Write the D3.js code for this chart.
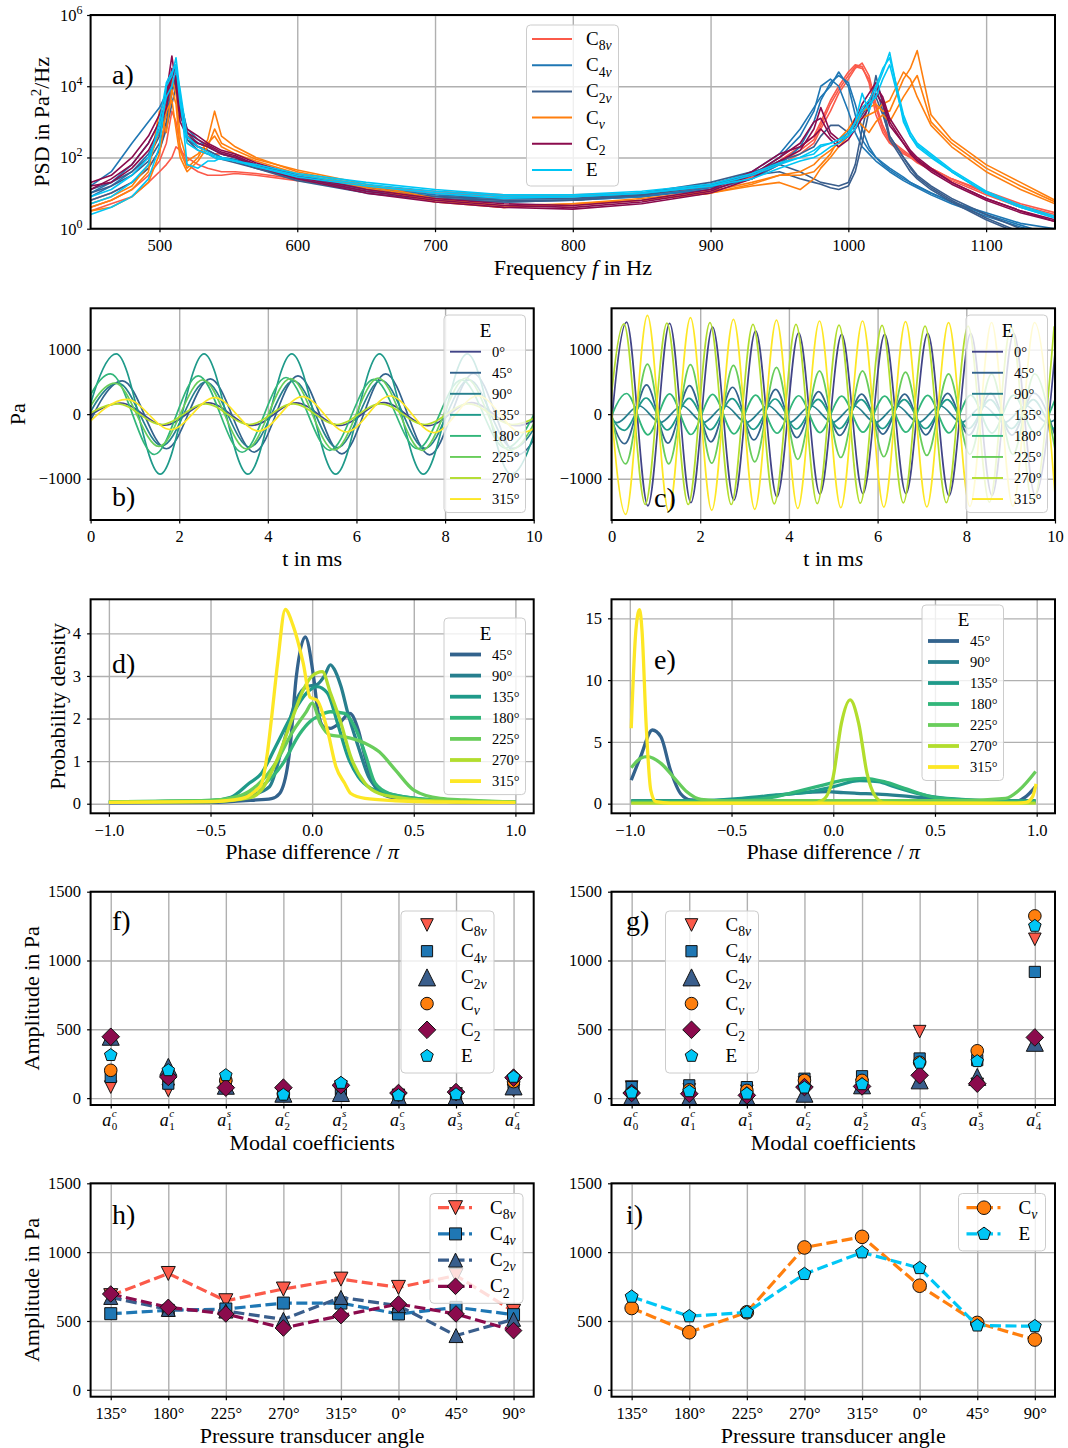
<!DOCTYPE html>
<html>
<head>
<meta charset="utf-8">
<script src="https://cdn.jsdelivr.net/npm/d3@7"></script>
<style>
  body { margin: 0; background: #fff; }
  text { font-family: "Liberation Serif", "DejaVu Serif", serif; }
</style>
</head>
<body>
<script>
// ---------- data ----------
// groups (legend order)
var groupSubs = ['8v', '4v', '2v', 'v', '2', ''];

// a) PSD, log10 of Pa^2/Hz, read at these frequencies
var psdFreq = [450,465,480,492,500,505,509,512,515,520,528,535,540,545,555,570,600,650,700,750,800,850,900,930,950,965,975,980,987,993,1000,1005,1010,1015,1020,1025,1030,1040,1045,1050,1060,1075,1100,1125,1150];
var psdC8v = [
  [0.6,0.8,1.1,1.5,1.9,2.4,3.3,3.0,2.3,1.8,1.6,1.5,1.5,1.5,1.55,1.5,1.35,1.15,1.0,0.95,0.95,1.0,1.2,1.5,1.9,2.3,2.6,3.0,3.6,4.0,4.4,4.6,4.55,4.1,3.2,2.7,2.4,2.1,2.0,1.85,1.65,1.35,0.95,0.6,0.35],
  [0.8,1.0,1.3,1.7,2.2,2.9,4.0,4.3,3.5,2.7,2.3,2.2,2.1,2.1,2.0,1.8,1.5,1.2,1.0,0.9,0.85,0.9,1.1,1.4,1.8,2.1,2.4,2.8,3.3,3.8,4.2,4.5,4.65,4.3,3.5,2.9,2.5,2.2,2.05,1.9,1.7,1.4,1.0,0.65,0.4],
  [0.5,0.7,0.9,1.3,1.6,1.8,2.0,2.3,2.2,2.0,1.8,1.7,1.65,1.6,1.6,1.55,1.4,1.2,1.05,0.95,0.9,0.95,1.15,1.45,1.85,2.2,2.5,2.9,3.5,3.9,4.3,4.55,4.5,4.2,3.4,2.8,2.45,2.15,2.0,1.9,1.7,1.4,1.05,0.7,0.45]
];
var psdC4v = [
  [1.2,1.6,2.4,3.0,3.4,3.8,4.3,4.5,3.6,2.8,2.5,2.3,2.2,2.1,2.0,1.8,1.5,1.15,0.95,0.85,0.85,0.95,1.2,1.6,2.1,2.8,3.4,3.7,4.0,4.4,4.0,3.2,2.5,2.2,2.0,1.8,1.65,1.4,1.3,1.2,1.0,0.75,0.4,0.1,-0.2],
  [1.0,1.3,1.8,2.4,3.0,3.5,4.2,4.0,3.2,2.6,2.4,2.3,2.2,2.1,2.0,1.8,1.45,1.1,0.9,0.8,0.8,0.9,1.15,1.5,2.0,2.6,3.3,4.0,4.2,4.0,3.3,2.7,2.3,2.1,1.9,1.75,1.6,1.35,1.25,1.15,0.95,0.7,0.35,0.05,-0.2],
  [0.9,1.2,1.6,2.1,2.7,3.2,3.9,4.2,3.4,2.5,2.3,2.2,2.1,2.0,1.95,1.75,1.4,1.05,0.85,0.75,0.8,0.9,1.1,1.4,1.8,2.3,3.0,3.6,4.1,4.3,4.1,3.5,2.8,2.3,2.0,1.85,1.7,1.45,1.3,1.2,1.0,0.75,0.45,0.15,0.0]
];
var psdC2v = [
  [1.1,1.3,1.6,2.0,2.6,3.3,4.2,4.6,3.4,2.6,2.3,2.2,2.1,2.0,1.9,1.7,1.4,1.05,0.85,0.8,0.8,0.95,1.2,1.5,1.6,1.4,1.3,1.25,1.15,1.1,1.2,1.6,2.4,3.3,4.3,3.5,2.6,2.0,1.7,1.45,1.15,0.8,0.3,-0.1,-0.4],
  [1.0,1.2,1.5,1.9,2.4,3.0,3.8,4.3,3.7,2.7,2.4,2.3,2.2,2.1,2.0,1.8,1.5,1.1,0.9,0.85,0.85,1.0,1.3,1.6,1.8,1.6,1.4,1.3,1.25,1.2,1.3,1.8,2.8,3.6,4.0,3.3,2.5,1.9,1.6,1.4,1.1,0.75,0.25,-0.15,-0.4],
  [0.8,1.0,1.3,1.7,2.2,2.8,3.5,4.0,3.3,2.5,2.2,2.1,2.0,1.95,1.85,1.7,1.35,1.0,0.8,0.75,0.8,0.95,1.25,1.55,1.9,2.1,2.3,2.6,2.9,2.9,2.7,2.9,3.2,3.5,3.7,3.2,2.6,2.0,1.75,1.5,1.2,0.85,0.4,0.0,-0.3]
];
var psdCv = [
  [0.6,0.8,1.1,1.6,3.3,2.7,3.9,3.5,2.2,1.7,2.0,2.5,3.3,2.6,2.3,2.0,1.6,1.2,0.8,0.6,0.7,0.8,1.0,1.2,1.3,1.1,1.4,1.7,2.0,2.3,2.6,3.0,3.3,3.4,3.5,3.3,3.3,4.2,4.5,5.0,3.2,2.5,1.8,1.3,0.8],
  [0.5,0.6,0.9,1.3,2.1,3.3,3.6,2.8,2.0,1.6,1.9,2.3,2.8,2.4,2.2,1.95,1.65,1.25,0.85,0.65,0.7,0.85,1.05,1.3,1.5,1.6,1.8,2.0,2.2,2.4,2.7,3.0,3.1,3.2,3.3,3.5,3.6,4.4,4.2,3.7,2.9,2.3,1.6,1.1,0.7],
  [0.7,0.9,1.2,1.8,2.8,3.5,4.2,3.8,2.6,1.9,2.1,2.4,2.6,2.3,2.1,1.9,1.55,1.15,0.75,0.6,0.65,0.8,1.0,1.25,1.5,1.5,1.6,1.8,2.1,2.5,2.8,3.1,2.9,2.7,3.0,3.2,3.0,3.7,4.0,4.3,3.0,2.4,1.7,1.2,0.75]
];
var psdC2 = [
  [1.3,1.5,2.0,2.6,3.2,3.8,4.85,4.0,3.0,2.6,2.4,2.3,2.2,2.1,2.0,1.75,1.4,1.0,0.75,0.6,0.55,0.7,1.0,1.4,1.9,2.2,2.8,3.4,2.7,2.5,2.7,3.0,3.5,3.8,4.1,3.6,3.0,2.4,2.1,1.9,1.6,1.25,0.8,0.45,0.2],
  [1.1,1.4,1.8,2.4,3.0,3.6,4.5,4.2,3.2,2.7,2.5,2.35,2.25,2.15,2.05,1.8,1.45,1.05,0.8,0.65,0.6,0.75,1.05,1.5,2.0,2.4,3.0,3.1,2.6,2.4,2.6,3.1,3.3,3.6,4.0,3.7,3.1,2.5,2.2,2.0,1.7,1.3,0.85,0.5,0.25],
  [1.2,1.3,1.7,2.2,2.8,3.4,4.3,4.4,3.4,2.8,2.6,2.4,2.3,2.2,2.1,1.85,1.5,1.1,0.85,0.7,0.65,0.8,1.1,1.6,2.1,2.3,2.6,2.8,2.5,2.3,2.5,2.8,3.1,3.4,3.8,3.5,2.9,2.4,2.15,1.95,1.65,1.3,0.85,0.5,0.2]
];
var psdE = [
  [0.4,0.6,0.9,1.4,2.3,4.0,4.3,4.8,3.8,1.8,1.7,1.9,1.9,2.0,1.9,1.75,1.45,1.2,1.0,0.85,0.9,1.0,1.2,1.4,1.7,1.9,2.0,2.1,2.3,2.4,2.6,3.0,3.8,3.3,3.9,4.4,4.95,3.0,2.6,2.3,2.0,1.6,1.0,0.6,0.3],
  [0.7,0.9,1.3,1.8,3.0,4.1,4.4,4.6,3.5,2.4,2.2,2.1,2.0,1.95,1.9,1.75,1.5,1.25,1.05,0.9,0.9,1.0,1.2,1.5,1.8,2.0,2.1,2.3,2.4,2.5,2.7,3.0,3.4,3.6,4.0,4.5,4.8,3.2,2.7,2.4,2.1,1.65,1.05,0.65,0.35],
  [0.9,1.1,1.5,2.0,2.8,3.7,4.0,4.5,3.9,2.6,2.3,2.15,2.05,2.0,1.9,1.8,1.55,1.3,1.1,0.95,0.95,1.05,1.25,1.55,1.85,2.0,2.2,2.35,2.4,2.5,2.6,2.8,3.3,3.5,3.7,4.2,4.6,3.1,2.6,2.35,2.05,1.6,1.0,0.6,0.3]
];

// b), c) pressure signals of E: [t in ms, extremum in Pa] per transducer angle
var angleLabels = ['0°', '45°', '90°', '135°', '180°', '225°', '270°', '315°'];
var sigLow = [
  [[-0.31,-170],[0.68,170],[1.67,-170],[2.66,175],[3.65,-175],[4.64,175],[5.63,-175],[6.62,180],[7.61,-180],[8.60,180],[9.59,-180],[10.58,180]],
  [[-0.27,-500],[0.72,515],[1.71,-536],[2.70,547],[3.69,-588],[4.68,594],[5.67,-615],[6.66,625],[7.65,-630],[8.64,630],[9.63,-630],[10.62,630]],
  [[-0.37,-470],[0.62,480],[1.61,-490],[2.60,500],[3.59,-510],[4.58,515],[5.57,-520],[6.56,525],[7.55,-530],[8.54,530],[9.53,-530],[10.52,530]],
  [[-0.41,-930],[0.58,935],[1.57,-930],[2.56,935],[3.55,-930],[4.54,935],[5.53,-930],[6.52,935],[7.51,-930],[8.50,935],[9.49,-930],[10.48,930]],
  [[-0.54,-620],[0.45,625],[1.44,-625],[2.43,594],[3.42,-590],[4.41,568],[5.40,-560],[6.39,540],[7.38,-536],[8.37,530],[9.36,-525],[10.35,520]],
  [[-0.44,-470],[0.55,480],[1.54,-500],[2.53,530],[3.52,-540],[4.51,552],[5.50,-555],[6.49,557],[7.48,-560],[8.47,560],[9.46,-560],[10.45,560]],
  [[-0.38,-155],[0.61,160],[1.60,-160],[2.59,160],[3.58,-160],[4.57,160],[5.56,-160],[6.55,160],[7.54,-160],[8.53,160],[9.52,-160],[10.51,160]],
  [[-0.17,-220],[0.82,229],[1.81,-240],[2.80,255],[3.79,-262],[4.78,270],[5.77,-275],[6.76,281],[7.75,-285],[8.74,285],[9.73,-285],[10.72,285]]
];
var sigHigh = [
  [[-0.15,-1420],[0.34,1427],[0.82,-1420],[1.31,1406],[1.79,-1370],[2.28,1350],[2.76,-1333],[3.25,1290],[3.73,-1280],[4.22,1260],[4.70,-1240],[5.19,1235],[5.67,-1230],[6.16,1235],[6.64,-1230],[7.13,1250],[7.61,-1265],[8.10,1250],[8.58,-1260],[9.07,1250],[9.55,-1250],[10.04,1250]],
  [[-0.19,450],[0.30,-458],[0.79,453],[1.27,-450],[1.76,443],[2.24,-430],[2.73,417],[3.21,-400],[3.70,385],[4.18,-365],[4.67,349],[5.15,-330],[5.64,310],[6.12,-310],[6.61,310],[7.09,-320],[7.58,323],[8.06,-325],[8.55,325],[9.03,-325],[9.52,325],[10.00,-325]],
  [[-0.36,130],[0.13,-130],[0.62,130],[1.10,-130],[1.59,130],[2.07,-130],[2.56,130],[3.04,-130],[3.53,130],[4.01,-130],[4.50,130],[4.98,-130],[5.47,130],[5.95,-130],[6.44,130],[6.92,-130],[7.41,130],[7.89,-130],[8.38,130],[8.86,-130],[9.35,130],[9.83,-130],[10.32,130]],
  [[-0.20,250],[0.29,-250],[0.78,250],[1.26,-245],[1.75,245],[2.23,-240],[2.72,240],[3.20,-235],[3.69,235],[4.17,-230],[4.66,230],[5.14,-225],[5.63,225],[6.11,-225],[6.60,225],[7.08,-225],[7.57,225],[8.05,-225],[8.54,225],[9.02,-225],[9.51,225],[9.99,-225],[10.48,225]],
  [[-0.15,-320],[0.34,320],[0.82,-320],[1.31,315],[1.79,-315],[2.28,305],[2.76,-305],[3.25,295],[3.73,-295],[4.22,285],[4.70,-285],[5.19,280],[5.67,-280],[6.16,280],[6.64,-280],[7.13,290],[7.61,-290],[8.10,295],[8.58,-295],[9.07,295],[9.55,-295],[10.04,295]],
  [[-0.16,770],[0.32,-770],[0.81,776],[1.29,-770],[1.78,766],[2.26,-760],[2.75,755],[3.23,-740],[3.72,724],[4.20,-700],[4.69,672],[5.17,-672],[5.66,672],[6.14,-660],[6.63,651],[7.11,-640],[7.60,625],[8.08,-625],[8.57,625],[9.05,-625],[9.54,625],[10.02,-625]],
  [[-0.21,-1400],[0.28,1400],[0.76,-1400],[1.25,1410],[1.73,-1400],[2.22,1417],[2.70,-1400],[3.19,1390],[3.67,-1390],[4.16,1390],[4.64,-1385],[5.13,1380],[5.61,-1380],[6.10,1375],[6.58,-1375],[7.07,1365],[7.55,-1370],[8.04,1365],[8.52,-1365],[9.01,1360],[9.49,-1360],[9.98,1360]],
  [[-0.16,1530],[0.32,-1552],[0.81,1531],[1.29,-1510],[1.78,1495],[2.26,-1490],[2.75,1469],[3.23,-1474],[3.72,1458],[4.20,-1460],[4.69,1443],[5.17,-1448],[5.66,1443],[6.14,-1440],[6.63,1432],[7.11,-1437],[7.60,1417],[8.08,-1430],[8.57,1420],[9.05,-1425],[9.54,1420],[10.02,-1420]]
];

// d), e) probability density of phase difference, [phase/pi, density], angles 45..315
var phaseLow = [
  [[-1,0.02],[-0.5,0.03],[-0.3,0.08],[-0.2,0.12],[-0.16,0.24],[-0.11,1.26],[-0.078,2.98],[-0.034,3.92],[0.007,2.98],[0.03,2.12],[0.058,1.8],[0.09,1.77],[0.134,1.89],[0.185,2.12],[0.227,1.73],[0.26,1.1],[0.31,0.4],[0.38,0.16],[0.5,0.09],[0.7,0.05],[1,0.03]],
  [[-1,0.03],[-0.5,0.05],[-0.3,0.2],[-0.21,0.4],[-0.146,1.34],[-0.078,2.43],[-0.027,2.75],[0.024,2.8],[0.06,3.0],[0.09,3.26],[0.115,3.1],[0.142,2.75],[0.176,2.12],[0.227,1.34],[0.278,0.63],[0.33,0.32],[0.41,0.16],[0.5,0.1],[0.7,0.05],[1,0.03]],
  [[-1,0.04],[-0.5,0.07],[-0.4,0.15],[-0.31,0.48],[-0.25,0.71],[-0.18,1.34],[-0.095,2.12],[-0.027,2.6],[0.024,2.75],[0.075,2.6],[0.125,1.89],[0.176,1.1],[0.227,0.63],[0.29,0.36],[0.41,0.2],[0.5,0.13],[0.7,0.06],[1,0.04]],
  [[-1,0.05],[-0.5,0.08],[-0.35,0.15],[-0.25,0.4],[-0.15,0.9],[-0.06,1.65],[-0.01,1.93],[0.04,2.08],[0.09,2.16],[0.16,2.12],[0.21,1.8],[0.26,1.18],[0.31,0.48],[0.38,0.24],[0.5,0.13],[0.7,0.07],[1,0.04]],
  [[-1,0.05],[-0.5,0.08],[-0.35,0.2],[-0.26,0.48],[-0.18,0.95],[-0.095,1.7],[-0.03,2.15],[0.0,2.36],[0.04,1.89],[0.09,1.61],[0.16,1.57],[0.26,1.42],[0.33,1.22],[0.41,0.79],[0.5,0.32],[0.63,0.125],[0.75,0.09],[1,0.04]],
  [[-1,0.03],[-0.5,0.05],[-0.3,0.15],[-0.25,0.32],[-0.18,0.95],[-0.095,2.04],[-0.044,2.67],[0.0,3.0],[0.05,3.1],[0.09,2.6],[0.142,1.89],[0.19,1.1],[0.26,0.48],[0.33,0.24],[0.5,0.1],[0.7,0.05],[1,0.03]],
  [[-1,0.03],[-0.5,0.05],[-0.35,0.12],[-0.28,0.3],[-0.25,0.45],[-0.22,1.2],[-0.2,2.0],[-0.17,3.3],[-0.132,4.56],[-0.095,4.2],[-0.044,3.3],[-0.01,2.5],[0.024,2.43],[0.075,1.73],[0.117,0.87],[0.16,0.48],[0.19,0.24],[0.26,0.125],[0.41,0.07],[0.6,0.04],[1,0.03]]
];
var phaseHigh = [
  [[-0.993,1.9],[-0.947,3.8],[-0.889,5.96],[-0.847,5.4],[-0.8,2.7],[-0.75,0.8],[-0.7,0.3],[-0.5,0.2],[0,0.2],[0.5,0.2],[0.9,0.2],[0.947,0.57],[0.995,1.4]],
  [[-0.993,0.25],[-0.7,0.25],[-0.45,0.35],[-0.22,0.78],[-0.03,0.97],[0.05,0.89],[0.116,0.84],[0.22,0.78],[0.38,0.57],[0.55,0.35],[0.8,0.25],[0.995,0.25]],
  [[-0.993,0.15],[-0.7,0.2],[-0.45,0.43],[-0.28,0.7],[-0.11,0.97],[0.0,1.37],[0.13,1.86],[0.22,1.78],[0.3,1.37],[0.47,0.62],[0.63,0.35],[0.8,0.2],[0.995,0.15]],
  [[-0.993,0.2],[-0.5,0.2],[-0.28,0.57],[-0.15,1.1],[-0.05,1.5],[0.05,1.9],[0.15,2.05],[0.25,1.78],[0.35,1.24],[0.48,0.57],[0.63,0.3],[0.8,0.2],[0.995,0.2]],
  [[-0.993,2.9],[-0.947,3.67],[-0.914,3.8],[-0.847,3.26],[-0.78,2.05],[-0.72,0.97],[-0.65,0.35],[-0.515,0.22],[0,0.25],[0.6,0.25],[0.847,0.43],[0.914,1.1],[0.995,2.6]],
  [[-0.993,0.05],[-0.1,0.05],[-0.05,0.3],[0.0,2.2],[0.04,6.5],[0.083,8.4],[0.125,6.5],[0.166,2.45],[0.208,0.57],[0.25,0.1],[0.4,0.05],[0.995,0.05]],
  [[-0.993,6.1],[-0.97,14.05],[-0.952,15.7],[-0.94,14.0],[-0.92,6.5],[-0.897,1.1],[-0.872,0.16],[-0.8,0.05],[0.9,0.05],[0.947,0.1],[0.98,0.57],[0.997,1.6]]
];

// f), g) modal coefficient amplitudes in Pa
var coefIndex = ['0', '1', '1', '2', '2', '3', '3', '4'];
var coefKind = ['c', 'c', 's', 'c', 's', 'c', 's', 'c'];
var lowC8v = [80, 56, 80, 20, 80, 20, 30, 56];
var lowC4v = [154, 105, 100, 40, 60, 20, 20, 110];
var lowC2v = [446, 227, 90, 32, 37, 7, 7, 85];
var lowCv = [202, 150, 130, 30, 90, 30, 40, 120];
var lowC2 = [446, 154, 76, 76, 93, 37, 44, 149];
var lowE = [312, 202, 166, 24, 110, 20, 27, 154];
var highC8v = [80, 60, 50, 110, 90, 483, 100, 1154];
var highC4v = [80, 93, 80, 141, 159, 288, 276, 917];
var highC2v = [7, 0, 7, 32, 93, 129, 154, 402];
var highCv = [40, 60, 56, 129, 129, 260, 344, 1324];
var highC2 = [37, 32, 20, 80, 85, 166, 105, 441];
var highE = [39, 49, 32, 76, 100, 256, 268, 1251];

// h), i) amplitude per pressure transducer
var transducerAngles = ['135°', '180°', '225°', '270°', '315°', '0°', '45°', '90°'];
var ampC8v = [684, 845, 647, 732, 804, 744, 830, 570];
var ampC4v = [553, 577, 587, 630, 630, 551, 599, 546];
var ampC2v = [671, 584, 572, 512, 671, 611, 394, 512];
var ampC2 = [696, 599, 551, 449, 539, 623, 551, 430];
var ampCv = [594, 418, 563, 1034, 1111, 756, 486, 365];
var ampE = [676, 534, 563, 841, 998, 884, 467, 462];

// ---------- styles ----------
var groupColors = ['#fb5a4a', '#1f77b4', '#3a5e8c', '#ff7f0e', '#8b0b4d', '#00c6f5'];
var groupMarkers = ['v', 's', '^', 'o', 'D', 'p'];
var markerR = [6.3, 5.6, 8.5, 6.3, 8.8, 6.6];
var markerRLine = [7, 6, 7, 6.8, 8.3, 6.8];
var angleColors = angleLabels.map(function(d, i){ return d3.interpolateViridis(0.2 + 0.8 * i / 7); });
var gridColor = '#b0b0b0';
var tickFont = 16.5;

var svg = d3.select('body').append('svg')
    .attr('width', 1068)
    .attr('height', 1448);

var colL = {x0: 90.6, x1: 533.7};
var colR = {x0: 611.5, x1: 1055};

function box(col, y0, y1){ return {x0: col.x0, x1: col.x1, y0: y0, y1: y1}; }

var clipN = 0;
// grid, clipped plot layer, and a top layer for spines / ticks
function axes(b, x, y, xTicks, yTicks, xFmt, yFmt){
    var w = b.x1 - b.x0, h = b.y1 - b.y0;
    var g = svg.append('g');
    g.append('g').attr('transform', 'translate(0,' + b.y1 + ')')
        .call(d3.axisBottom(x).tickValues(xTicks).tickSize(-h).tickFormat(''))
        .call(function(s){ s.select('.domain').remove(); s.selectAll('line').attr('stroke', gridColor).attr('stroke-width', 1.4); });
    g.append('g').attr('transform', 'translate(' + b.x0 + ',0)')
        .call(d3.axisLeft(y).tickValues(yTicks).tickSize(-w).tickFormat(''))
        .call(function(s){ s.select('.domain').remove(); s.selectAll('line').attr('stroke', gridColor).attr('stroke-width', 1.4); });
    var id = 'clip' + (clipN++);
    g.append('clipPath').attr('id', id).append('rect')
        .attr('x', b.x0).attr('y', b.y0).attr('width', w).attr('height', h);
    var plot = g.append('g').attr('clip-path', 'url(#' + id + ')');
    var top = g.append('g');
    top.append('rect').attr('x', b.x0).attr('y', b.y0).attr('width', w).attr('height', h)
        .attr('fill', 'none').attr('stroke', '#000').attr('stroke-width', 2);
    var xa = top.append('g').attr('transform', 'translate(0,' + b.y1 + ')')
        .call(d3.axisBottom(x).tickValues(xTicks).tickSize(3.5).tickPadding(7).tickFormat(xFmt || function(){ return ''; }));
    var ya = top.append('g').attr('transform', 'translate(' + b.x0 + ',0)')
        .call(d3.axisLeft(y).tickValues(yTicks).tickSize(3.5).tickPadding(6).tickFormat(yFmt || function(){ return ''; }));
    [xa, ya].forEach(function(a){
        a.select('.domain').remove();
        a.attr('font-family', null).attr('font-size', tickFont);
        a.selectAll('line').attr('stroke-width', 1.2);
    });
    return {g: g, plot: plot, top: top, b: b, x: x, y: y};
}

function panelLetter(ax, x, y, s){
    ax.top.append('text').attr('x', x).attr('y', y).attr('font-size', 28).text(s);
}

function xLabel(ax, build, off){
    var t = ax.top.append('text').attr('x', (ax.b.x0 + ax.b.x1) / 2).attr('y', ax.b.y1 + (off || 46))
        .attr('text-anchor', 'middle').attr('font-size', 22);
    build(t);
}

function yLabel(ax, xc, build){
    var yc = (ax.b.y0 + ax.b.y1) / 2;
    var t = ax.top.append('text').attr('transform', 'translate(' + xc + ',' + yc + ') rotate(-90)')
        .attr('text-anchor', 'middle').attr('font-size', 22);
    build(t);
}

// "C" with subscript like 8v (v in italics)
function cText(t, sub, fs){
    t.append('tspan').text(sub === null ? 'E' : 'C');
    if (sub === null) return;
    var first = true;
    sub.split('').forEach(function(ch){
        var sp = t.append('tspan').attr('font-size', fs * 0.72).text(ch);
        if (first) { sp.attr('dy', fs * 0.28); first = false; }
        if (ch === 'v') sp.attr('font-style', 'italic');
    });
}
function groupLabel(t, gi, fs){ cText(t, gi === 5 ? null : groupSubs[gi], fs); }

function markerPath(kind, r){
    if (kind === 'v') return 'M0,' + r + 'L' + (-r) + ',' + (-r) + 'L' + r + ',' + (-r) + 'Z';
    if (kind === '^') return 'M0,' + (-r) + 'L' + (-r) + ',' + r + 'L' + r + ',' + r + 'Z';
    if (kind === 's') return 'M' + (-r) + ',' + (-r) + 'H' + r + 'V' + r + 'H' + (-r) + 'Z';
    if (kind === 'D') return 'M0,' + (-r) + 'L' + r + ',0L0,' + r + 'L' + (-r) + ',0Z';
    if (kind === 'o') return 'M' + r + ',0A' + r + ',' + r + ' 0 1,1 ' + (-r) + ',0A' + r + ',' + r + ' 0 1,1 ' + r + ',0Z';
    var pts = d3.range(5).map(function(k){
        var a = (-90 + k * 72) * Math.PI / 180;
        return [r * Math.cos(a), r * Math.sin(a)];
    });
    return 'M' + pts.map(function(p){ return p.join(','); }).join('L') + 'Z';
}

function legendBox(ax, x0, y0, x1, y1){
    ax.top.append('rect').attr('x', x0).attr('y', y0).attr('width', x1 - x0).attr('height', y1 - y0)
        .attr('rx', 4).attr('fill', '#fff').attr('fill-opacity', 0.8)
        .attr('stroke', '#cccccc').attr('stroke-width', 1);
}

// ---------- a) PSD ----------
var boxA = {x0: colL.x0, x1: colR.x1, y0: 15, y1: 228.7};
var xA = d3.scaleLinear().domain([450, 1150]).range([boxA.x0, boxA.x1]);
var yA = d3.scaleLog().domain([1, 1e6]).range([boxA.y1, boxA.y0]);
var axA = axes(boxA, xA, yA, [500, 600, 700, 800, 900, 1000, 1100], [1, 1e2, 1e4, 1e6], d3.format('d'), null);
[0, 2, 4, 6].forEach(function(p){
    var t = axA.top.append('text').attr('x', boxA.x0 - 8).attr('y', yA(Math.pow(10, p)) + 6)
        .attr('text-anchor', 'end').attr('font-size', tickFont);
    t.append('tspan').text('10');
    t.append('tspan').attr('dy', -7).attr('font-size', 12).text(p);
});
var lineA = d3.line()
    .x(function(v, i){ return xA(psdFreq[i]); })
    .y(function(v){ return yA(Math.pow(10, v)); });
[psdC8v, psdC4v, psdC2v, psdCv, psdC2, psdE].forEach(function(grp, gi){
    grp.forEach(function(series){
        axA.plot.append('path').datum(series).attr('d', lineA)
            .attr('fill', 'none').attr('stroke', groupColors[gi]).attr('stroke-width', 1.6)
            .attr('stroke-linejoin', 'round');
    });
});
xLabel(axA, function(t){
    t.append('tspan').text('Frequency ');
    t.append('tspan').attr('font-style', 'italic').text('f');
    t.append('tspan').text(' in Hz');
});
yLabel(axA, 49, function(t){
    t.append('tspan').text('PSD in Pa');
    t.append('tspan').attr('dy', -8).attr('font-size', 15).text('2');
    t.append('tspan').attr('dy', 8).text('/Hz');
});
panelLetter(axA, 112, 84, 'a)');
legendBox(axA, 526.5, 25, 618.5, 186);
groupSubs.forEach(function(s, gi){
    var yy = 39 + gi * 26.2;
    axA.top.append('line').attr('x1', 532).attr('x2', 572).attr('y1', yy).attr('y2', yy)
        .attr('stroke', groupColors[gi]).attr('stroke-width', 2);
    groupLabel(axA.top.append('text').attr('x', 586).attr('y', yy + 6).attr('font-size', 19), gi, 19);
});

// ---------- b), c) time signals ----------
function angleLegend(ax, x0, y0, labels, colors, titleY, firstY, step, lw){
    var n = labels.length;
    legendBox(ax, x0, y0, x0 + 81.5, firstY + (n - 1) * step + 13.5);
    ax.top.append('text').attr('x', x0 + 41.5).attr('y', titleY + 7).attr('text-anchor', 'middle')
        .attr('font-size', 19).text('E');
    labels.forEach(function(lab, i){
        var yy = firstY + i * step;
        ax.top.append('line').attr('x1', x0 + 6).attr('x2', x0 + 37).attr('y1', yy).attr('y2', yy)
            .attr('stroke', colors[i]).attr('stroke-width', lw);
        ax.top.append('text').attr('x', x0 + 48).attr('y', yy + 5).attr('font-size', 14.5).text(lab);
    });
}
function signalPanel(col, data, withYLabel, sItalic, legendX){
    var b = box(col, 308.3, 520);
    var x = d3.scaleLinear().domain([0, 10]).range([b.x0, b.x1]);
    var y = d3.scaleLinear().domain([-1640, 1640]).range([b.y1, b.y0]);
    var ax = axes(b, x, y, [0, 2, 4, 6, 8, 10], [-1000, 0, 1000], d3.format('d'), d3.format('d'));
    var line = d3.line().x(function(d){ return x(d[0]); }).y(function(d){ return y(d[1]); }).curve(d3.curveMonotoneX);
    data.forEach(function(series, i){
        ax.plot.append('path').datum(series).attr('d', line)
            .attr('fill', 'none').attr('stroke', angleColors[i]).attr('stroke-width', 1.7);
    });
    xLabel(ax, function(t){
        t.append('tspan').text('t in m');
        t.append('tspan').attr('font-style', sItalic ? 'italic' : null).text('s');
    });
    if (withYLabel) yLabel(ax, 25, function(t){ t.text('Pa'); });
    angleLegend(ax, legendX, 315, angleLabels, angleColors, 330, 351.7, 21.05, 1.9);
    return ax;
}
var axB = signalPanel(colL, sigLow, true, false, 444);
panelLetter(axB, 112, 506, 'b)');
var axC = signalPanel(colR, sigHigh, false, true, 966);
panelLetter(axC, 654, 507, 'c)');

// ---------- d), e) phase difference ----------
function phasePanel(col, data, yMax, yMin, yTicks, legX, legY0, titleY, firstY, step){
    var b = box(col, 599.3, 813.3);
    var x = d3.scaleLinear().domain([-1.09, 1.09]).range([b.x0, b.x1]);
    var y = d3.scaleLinear().domain([yMin, yMax]).range([b.y1, b.y0]);
    var ax = axes(b, x, y, [-1, -0.5, 0, 0.5, 1], yTicks, d3.format('.1f'), d3.format('d'));
    var line = d3.line().x(function(d){ return x(d[0]); }).y(function(d){ return y(d[1]); }).curve(d3.curveMonotoneX);
    data.forEach(function(series, i){
        ax.plot.append('path').datum(series).attr('d', line)
            .attr('fill', 'none').attr('stroke', angleColors[i + 1]).attr('stroke-width', 3.3)
            .attr('stroke-linejoin', 'round');
    });
    xLabel(ax, function(t){
        t.append('tspan').text('Phase difference / ');
        t.append('tspan').attr('font-style', 'italic').text('π');
    });
    angleLegend(ax, legX, legY0, angleLabels.slice(1), angleColors.slice(1), titleY, firstY, step, 3.8);
    return ax;
}
var axD = phasePanel(colL, phaseLow, 4.8, -0.225, [0, 1, 2, 3, 4], 444, 618, 633, 654.5, 21.1);
yLabel(axD, 65, function(t){ t.text('Probability density'); });
panelLetter(axD, 112, 673, 'd)');
var axE = phasePanel(colR, phaseHigh, 16.54, -0.78, [0, 5, 10, 15], 922, 605, 619, 641, 21.0);
panelLetter(axE, 654, 669, 'e)');

// ---------- f), g) modal coefficients ----------
function coefPanel(col, series, legX){
    var b = box(col, 891.7, 1105);
    var x = d3.scalePoint().domain(d3.range(coefIndex.length)).range([b.x0, b.x1]).padding(0.35);
    var y = d3.scaleLinear().domain([-50, 1500]).range([b.y1, b.y0]);
    var ax = axes(b, x, y, d3.range(coefIndex.length), [0, 500, 1000, 1500], null, d3.format('d'));
    series.forEach(function(vals, gi){
        ax.plot.selectAll(null).data(vals).enter().append('path')
            .attr('transform', function(d, i){ return 'translate(' + x(i) + ',' + y(d) + ')'; })
            .attr('d', markerPath(groupMarkers[gi], markerR[gi]))
            .attr('fill', groupColors[gi]).attr('stroke', '#111').attr('stroke-width', 1);
    });
    coefIndex.forEach(function(idx, i){
        var cx = x(i);
        ax.top.append('text').attr('x', cx - 4).attr('y', b.y1 + 21).attr('text-anchor', 'middle')
            .attr('font-size', 18).attr('font-style', 'italic').text('a');
        ax.top.append('text').attr('x', cx + 1).attr('y', b.y1 + 25).attr('font-size', 11).text(idx);
        ax.top.append('text').attr('x', cx + 1).attr('y', b.y1 + 12).attr('font-size', 11)
            .attr('font-style', 'italic').text(coefKind[i]);
    });
    xLabel(ax, function(t){ t.text('Modal coefficients'); }, 45);
    legendBox(ax, legX, 911, legX + 93, 1073);
    groupSubs.forEach(function(s, gi){
        var yy = 925 + gi * 26.2;
        ax.top.append('path').attr('transform', 'translate(' + (legX + 26) + ',' + yy + ')')
            .attr('d', markerPath(groupMarkers[gi], markerR[gi]))
            .attr('fill', groupColors[gi]).attr('stroke', '#111').attr('stroke-width', 1);
        groupLabel(ax.top.append('text').attr('x', legX + 60).attr('y', yy + 6).attr('font-size', 19), gi, 19);
    });
    return ax;
}
var axF = coefPanel(colL, [lowC8v, lowC4v, lowC2v, lowCv, lowC2, lowE], 401);
yLabel(axF, 39, function(t){ t.text('Amplitude in Pa'); });
panelLetter(axF, 112, 930, 'f)');
var axG = coefPanel(colR, [highC8v, highC4v, highC2v, highCv, highC2, highE], 665.5);
panelLetter(axG, 626, 930, 'g)');

// ---------- h), i) amplitude per transducer ----------
function ampPanel(col, series, groupIdx, legX, legW){
    var b = box(col, 1183.3, 1396.7);
    var x = d3.scalePoint().domain(transducerAngles).range([b.x0, b.x1]).padding(0.35);
    var y = d3.scaleLinear().domain([-50, 1500]).range([b.y1, b.y0]);
    var ax = axes(b, x, y, transducerAngles, [0, 500, 1000, 1500], function(d){ return d; }, d3.format('d'));
    var line = d3.line().x(function(d, i){ return x(transducerAngles[i]); }).y(function(d){ return y(d); });
    series.forEach(function(vals, k){
        var gi = groupIdx[k];
        ax.plot.append('path').datum(vals).attr('d', line)
            .attr('fill', 'none').attr('stroke', groupColors[gi]).attr('stroke-width', 3.2)
            .attr('stroke-dasharray', '11,4.5');
        ax.plot.selectAll(null).data(vals).enter().append('path')
            .attr('transform', function(d, i){ return 'translate(' + x(transducerAngles[i]) + ',' + y(d) + ')'; })
            .attr('d', markerPath(groupMarkers[gi], markerRLine[gi]))
            .attr('fill', groupColors[gi]).attr('stroke', '#111').attr('stroke-width', 1);
    });
    xLabel(ax, function(t){ t.text('Pressure transducer angle'); });
    legendBox(ax, legX, 1193.5, legX + legW, 1193.5 + 26.2 * groupIdx.length + 5);
    groupIdx.forEach(function(gi, k){
        var yy = 1207.7 + k * 26.2;
        ax.top.append('line').attr('x1', legX + 8).attr('x2', legX + 42).attr('y1', yy).attr('y2', yy)
            .attr('stroke', groupColors[gi]).attr('stroke-width', 3.2).attr('stroke-dasharray', '11,4.5');
        ax.top.append('path').attr('transform', 'translate(' + (legX + 25.5) + ',' + yy + ')')
            .attr('d', markerPath(groupMarkers[gi], markerRLine[gi]))
            .attr('fill', groupColors[gi]).attr('stroke', '#111').attr('stroke-width', 1);
        groupLabel(ax.top.append('text').attr('x', legX + 60).attr('y', yy + 6).attr('font-size', 19), gi, 19);
    });
    return ax;
}
var axH = ampPanel(colL, [ampC8v, ampC4v, ampC2v, ampC2], [0, 1, 2, 4], 430, 93);
yLabel(axH, 39, function(t){ t.text('Amplitude in Pa'); });
panelLetter(axH, 112, 1224, 'h)');
var axI = ampPanel(colR, [ampCv, ampE], [3, 5], 958.5, 87);
panelLetter(axI, 626, 1224, 'i)');
</script>
</body>
</html>
